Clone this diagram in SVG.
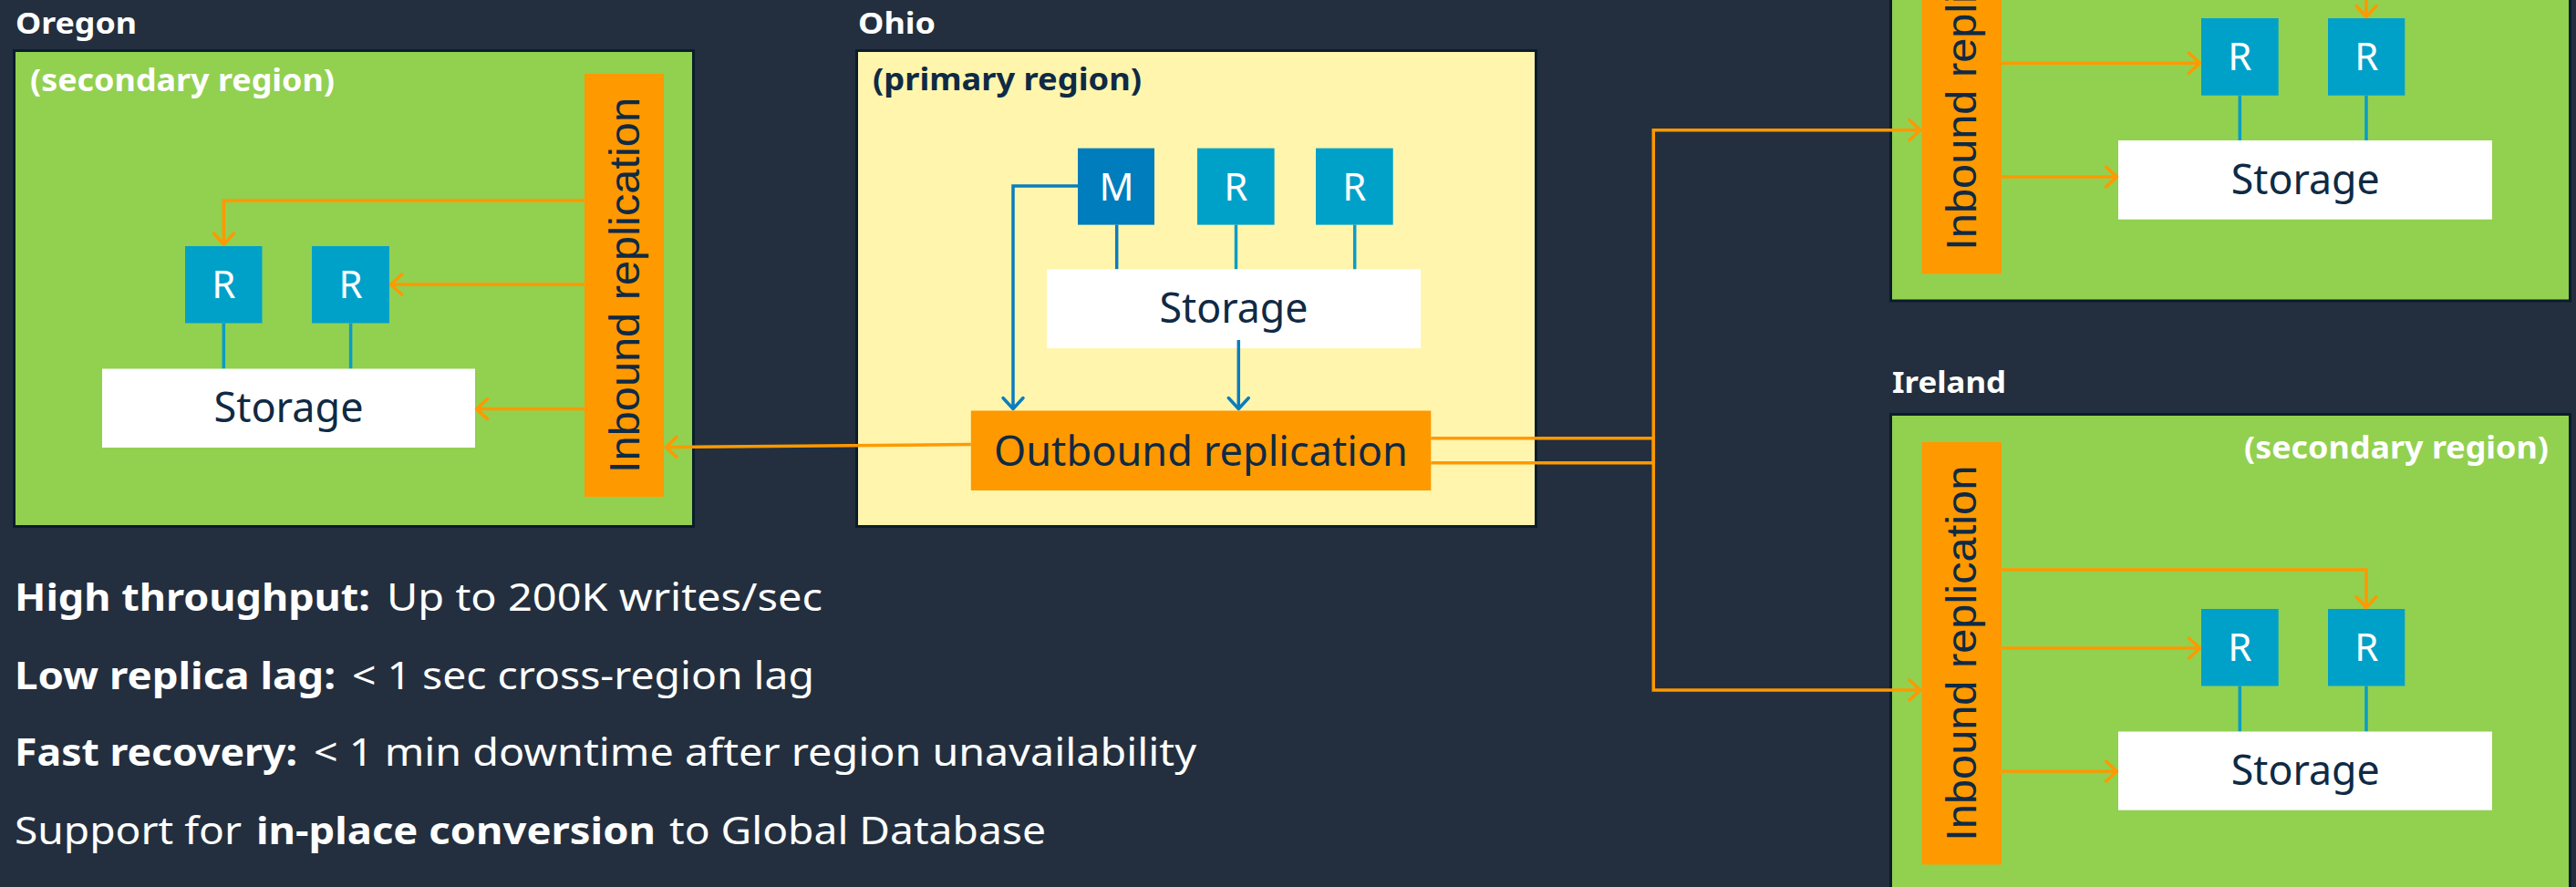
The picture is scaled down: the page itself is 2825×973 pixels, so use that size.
<svg xmlns="http://www.w3.org/2000/svg" width="2825" height="973" viewBox="0 0 2825 973">
<style>
.bg{fill:#232f3e}
.region-g{fill:#92d050;stroke:#0b1c2c;stroke-width:3}
.region-y{fill:#fff5ad;stroke:#0b1c2c;stroke-width:3}
.bar{fill:#ff9900}
.rbox{fill:#00a1c9}
.mbox{fill:#007dbc}
.store{fill:#ffffff}
.title{font-family:"Noto Sans","Liberation Sans",sans-serif;font-weight:bold;font-size:33px;fill:#ffffff}
.sub{font-family:"Noto Sans","Liberation Sans",sans-serif;font-weight:bold;font-size:34px}
.lbl{font-family:"Noto Sans","Liberation Sans",sans-serif;font-size:42px;text-anchor:middle}
.big{font-family:"Noto Sans","Liberation Sans",sans-serif;font-size:46px;text-anchor:middle;fill:#0f2a44}
.vert{font-family:"Liberation Sans","DejaVu Sans",sans-serif;font-size:47px;text-anchor:middle;fill:#0f2a44}
.dark{fill:#0f2a44}
.white{fill:#ffffff}
.foot{font-family:"Noto Sans","Liberation Sans",sans-serif;font-size:42px;fill:#ffffff}
.b{font-weight:bold}
.ol{fill:none;stroke:#ff9900;stroke-width:3.5}
.bl{fill:none;stroke:#0a7dbf;stroke-width:3.5}
.rl{fill:none;stroke:#0a9cc6;stroke-width:3.5}
</style>
<defs>
<marker id="arrO" viewBox="-16 -16 20 32" refX="0" refY="0" markerWidth="20" markerHeight="32" markerUnits="userSpaceOnUse" orient="auto">
<path d="M-12,-11 L0,0 L-12,11" fill="none" stroke="#ff9900" stroke-width="3.5" stroke-linecap="round" stroke-linejoin="round"/>
</marker>
<marker id="arrB" viewBox="-16 -16 20 32" refX="0" refY="0" markerWidth="20" markerHeight="32" markerUnits="userSpaceOnUse" orient="auto">
<path d="M-12,-11 L0,0 L-12,11" fill="none" stroke="#0a7dbf" stroke-width="3.5" stroke-linecap="round" stroke-linejoin="round"/>
</marker>
</defs>
<rect class="bg" x="0" y="0" width="2825" height="973"/>

<g id="oregon">
<text class="title" x="17" y="36.5" textLength="133" lengthAdjust="spacingAndGlyphs">Oregon</text>
<rect class="region-g" x="15.5" y="55.5" width="745" height="522"/>
<text class="sub white" x="33" y="100" textLength="334" lengthAdjust="spacingAndGlyphs">(secondary region)</text>
<rect class="bar" x="641" y="81" width="87" height="464"/>
<text class="vert" transform="translate(701,313) rotate(-90)" x="0" y="0" textLength="412" lengthAdjust="spacingAndGlyphs">Inbound replication</text>
<rect class="rbox" x="203" y="270" width="84.5" height="84.5"/>
<text class="lbl white" x="245.3" y="327.3">R</text>
<rect class="rbox" x="342" y="270" width="85" height="84.5"/>
<text class="lbl white" x="384.5" y="327.3">R</text>
<path class="rl" d="M245.3,354.5 V404.5 M384.6,354.5 V404.5"/>
<rect class="store" x="112" y="404.5" width="409" height="86.5"/>
<text class="big" x="316.5" y="462.5" textLength="164" lengthAdjust="spacingAndGlyphs">Storage</text>
</g>

<g id="ohio">
<text class="title" x="941" y="36.5" textLength="85" lengthAdjust="spacingAndGlyphs">Ohio</text>
<rect class="region-y" x="939.5" y="55.5" width="745" height="522"/>
<text class="sub dark" x="957" y="99" textLength="295" lengthAdjust="spacingAndGlyphs">(primary region)</text>
<rect class="mbox" x="1182" y="162.6" width="84" height="84"/>
<text class="lbl white" x="1224.5" y="219.5">M</text>
<rect class="rbox" x="1313" y="162.6" width="84.6" height="84"/>
<text class="lbl white" x="1355.3" y="219.5">R</text>
<rect class="rbox" x="1443" y="162.6" width="84.7" height="84"/>
<text class="lbl white" x="1485.4" y="219.5">R</text>
<path class="bl" d="M1224.7,246.5 V295.4"/>
<path class="rl" d="M1355.5,246.5 V295.4 M1485.7,246.5 V295.4"/>
<rect class="store" x="1148" y="295.4" width="410" height="86.6"/>
<text class="big" x="1353" y="354" textLength="163" lengthAdjust="spacingAndGlyphs">Storage</text>
<rect class="bar" x="1064.8" y="450.5" width="504.5" height="87.5"/>
<text class="big" x="1317" y="510.5" font-size="47" textLength="454" lengthAdjust="spacingAndGlyphs">Outbound replication</text>
</g>

<g id="topright">
<rect class="region-g" x="2073.5" y="-196" width="745" height="526"/>
<rect class="bar" x="2107.5" y="-163" width="87.5" height="463.5"/>
<text class="vert" transform="translate(2167,68.75) rotate(-90)" x="0" y="0" textLength="412" lengthAdjust="spacingAndGlyphs">Inbound replication</text>
<rect class="rbox" x="2414" y="20" width="84.7" height="84.7"/>
<text class="lbl white" x="2456.3" y="77.3">R</text>
<rect class="rbox" x="2553" y="20" width="84.3" height="84.7"/>
<text class="lbl white" x="2595.2" y="77.3">R</text>
<path class="rl" d="M2456.3,104.7 V154 M2595,104.7 V154"/>
<rect class="store" x="2323" y="154" width="410" height="86.7"/>
<text class="big" x="2528.3" y="213" textLength="163" lengthAdjust="spacingAndGlyphs">Storage</text>
</g>

<g id="ireland">
<text class="title" x="2075" y="431" textLength="125" lengthAdjust="spacingAndGlyphs">Ireland</text>
<rect class="region-g" x="2073.5" y="454.5" width="745" height="530"/>
<text class="sub white" x="2795" y="503" text-anchor="end" textLength="334" lengthAdjust="spacingAndGlyphs">(secondary region)</text>
<rect class="bar" x="2107.5" y="485" width="87.5" height="463.5"/>
<text class="vert" transform="translate(2167,716.75) rotate(-90)" x="0" y="0" textLength="412" lengthAdjust="spacingAndGlyphs">Inbound replication</text>
<rect class="rbox" x="2414" y="668" width="84.7" height="84.5"/>
<text class="lbl white" x="2456.3" y="725.3">R</text>
<rect class="rbox" x="2553" y="668" width="84.3" height="84.5"/>
<text class="lbl white" x="2595.2" y="725.3">R</text>
<path class="rl" d="M2456.3,752.5 V802.5 M2595,752.5 V802.5"/>
<rect class="store" x="2323" y="802.5" width="410" height="86.2"/>
<text class="big" x="2528.3" y="861" textLength="163" lengthAdjust="spacingAndGlyphs">Storage</text>
</g>

<g id="connectors">
<path class="ol" d="M641,220 H245.3 V268" marker-end="url(#arrO)"/>
<path class="ol" d="M641,312 H428.5" marker-end="url(#arrO)"/>
<path class="ol" d="M641,448.6 H522.5" marker-end="url(#arrO)"/>
<path class="ol" d="M1064.8,487.5 L730,490.5" marker-end="url(#arrO)"/>
<path class="bl" d="M1182,204 H1111 V448.5" marker-end="url(#arrB)"/>
<path class="bl" d="M1358.3,373 V448.5" marker-end="url(#arrB)"/>
<path class="ol" d="M1569.3,480.7 H1813.3 V757 H2106" marker-end="url(#arrO)"/>
<path class="ol" d="M1569.3,507.7 H1813.3 V142.7 H2106" marker-end="url(#arrO)"/>
<path class="ol" d="M2195,69.3 H2412.5" marker-end="url(#arrO)"/>
<path class="ol" d="M2195,194 H2321.5" marker-end="url(#arrO)"/>
<path class="ol" d="M2195,-23 H2595 V18.5" marker-end="url(#arrO)"/>
<path class="ol" d="M2195,625 H2595 V666.5" marker-end="url(#arrO)"/>
<path class="ol" d="M2195,711 H2412.5" marker-end="url(#arrO)"/>
<path class="ol" d="M2195,846 H2321.5" marker-end="url(#arrO)"/>
</g>

<g id="notes">
<text class="foot b" x="16" y="670" textLength="390" lengthAdjust="spacingAndGlyphs">High throughput:</text>
<text class="foot" x="424" y="670" textLength="478" lengthAdjust="spacingAndGlyphs">Up to 200K writes/sec</text>
<text class="foot b" x="16" y="756" textLength="352" lengthAdjust="spacingAndGlyphs">Low replica lag:</text>
<text class="foot" x="386" y="756" textLength="507" lengthAdjust="spacingAndGlyphs">&lt; 1 sec cross-region lag</text>
<text class="foot b" x="16" y="840" textLength="310" lengthAdjust="spacingAndGlyphs">Fast recovery:</text>
<text class="foot" x="344" y="840" textLength="968" lengthAdjust="spacingAndGlyphs">&lt; 1 min downtime after region unavailability</text>
<text class="foot" x="16" y="926" textLength="249" lengthAdjust="spacingAndGlyphs">Support for</text>
<text class="foot b" x="281" y="926" textLength="438" lengthAdjust="spacingAndGlyphs">in-place conversion</text>
<text class="foot" x="734" y="926" textLength="413" lengthAdjust="spacingAndGlyphs">to Global Database</text>
</g>
</svg>
